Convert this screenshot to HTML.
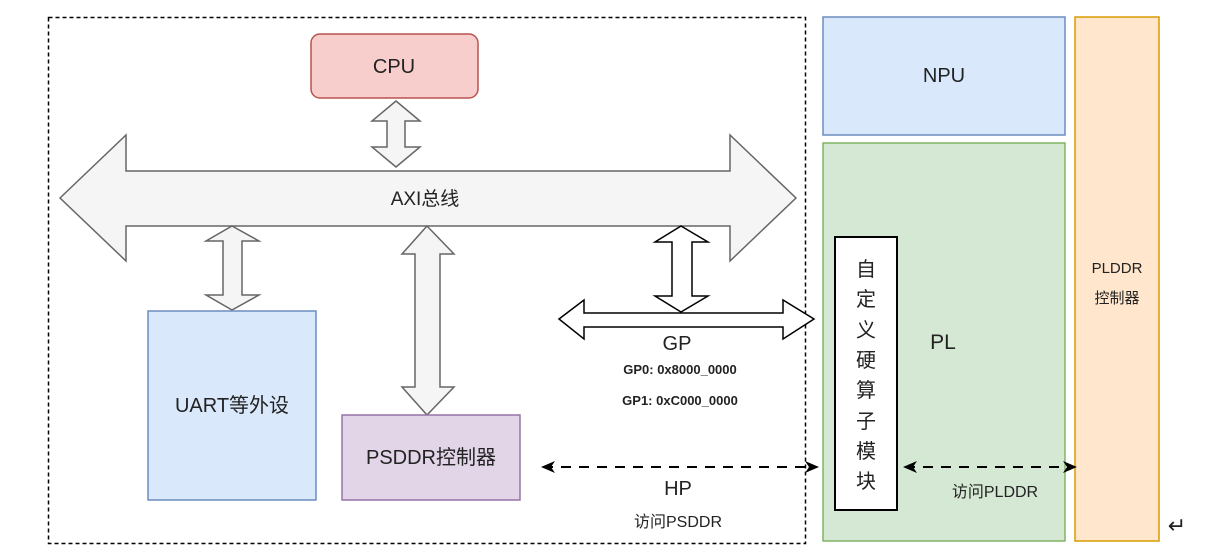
<!DOCTYPE html>
<html><head><meta charset="utf-8"><style>
body{margin:0;background:#fff;}
svg{display:block;}
text{font-family:"Liberation Sans","Noto Sans CJK SC",sans-serif;fill:#222;}
</style></head><body>
<svg width="1232" height="558" viewBox="0 0 1232 558" xmlns="http://www.w3.org/2000/svg">
<defs>
<marker id="ah" markerWidth="14" markerHeight="14" refX="12" refY="7" orient="auto-start-reverse" markerUnits="userSpaceOnUse" viewBox="0 0 14 14"><path d="M0,1 L14,7 L0,13 L4,7 Z" fill="#000"/></marker>
</defs>
<rect x="48.5" y="17.5" width="757" height="526" fill="none" stroke="#000" stroke-width="1.5" stroke-dasharray="4,3"/>
<rect x="311" y="34" width="167" height="64" rx="9" fill="#f8cecc" stroke="#b85450" stroke-width="1.5"/>
<text x="394" y="73" font-size="20" text-anchor="middle">CPU</text>
<path d="M60,198 L126,135 L126,171 L730,171 L730,135 L796,198 L730,261 L730,226 L126,226 L126,261 Z" fill="#f5f5f5" stroke="#666" stroke-width="1.5"/>
<text x="425" y="205" font-size="19" text-anchor="middle" fill="#333">AXI总线</text>
<path d="M396,101 L420,121 L405,121 L405,147 L420,147 L396,167 L372,147 L387,147 L387,121 L372,121 Z" fill="#f5f5f5" stroke="#666" stroke-width="1.5"/>
<path d="M232,226 L259,241 L242,241 L242,295 L259,295 L232,310 L206,295 L223,295 L223,241 L206,241 Z" fill="#f5f5f5" stroke="#666" stroke-width="1.5"/>
<path d="M427,226 L454,254 L440,254 L440,387 L454,387 L427,415 L402,387 L415,387 L415,254 L402,254 Z" fill="#f5f5f5" stroke="#666" stroke-width="1.5"/>
<path d="M681,226 L708,242 L692,242 L692,296 L708,296 L681,312 L655,296 L672,296 L672,242 L655,242 Z" fill="#fff" stroke="#000" stroke-width="1.5"/>
<path d="M559,319 L584,300 L584,313 L783,313 L783,300 L814,319 L783,339 L783,327 L584,327 L584,339 Z" fill="#fff" stroke="#000" stroke-width="1.5"/>
<text x="677" y="350" font-size="20" text-anchor="middle">GP</text>
<text x="680" y="374" font-size="13" text-anchor="middle" font-weight="bold" fill="#333">GP0: 0x8000_0000</text>
<text x="680" y="405" font-size="13" text-anchor="middle" font-weight="bold" fill="#333">GP1: 0xC000_0000</text>
<rect x="148" y="311" width="168" height="189" fill="#dae8fc" stroke="#6c8ebf" stroke-width="1.5"/>
<text x="232" y="412" font-size="20" text-anchor="middle">UART等外设</text>
<rect x="342" y="415" width="178" height="85" fill="#e1d5e7" stroke="#9673a6" stroke-width="1.5"/>
<text x="431" y="464" font-size="20" text-anchor="middle">PSDDR控制器</text>
<line x1="543" y1="467" x2="817" y2="467" stroke="#000" stroke-width="2" stroke-dasharray="10,8" marker-start="url(#ah)" marker-end="url(#ah)"/>
<text x="678" y="495" font-size="20" text-anchor="middle">HP</text>
<text x="678" y="527" font-size="16" text-anchor="middle">访问PSDDR</text>
<rect x="823" y="17" width="242" height="118" fill="#dae8fc" stroke="#6c8ebf" stroke-width="1.5"/>
<text x="944" y="82" font-size="20" text-anchor="middle">NPU</text>
<rect x="823" y="143" width="242" height="398" fill="#d5e8d4" stroke="#82b366" stroke-width="1.5"/>
<text x="943" y="349" font-size="21" text-anchor="middle">PL</text>
<rect x="1075" y="17" width="84" height="524" fill="#ffe6cc" stroke="#d79b00" stroke-width="1.5"/>
<text x="1117" y="273" font-size="15" text-anchor="middle">PLDDR</text>
<text x="1117" y="303" font-size="15" text-anchor="middle">控制器</text>
<rect x="835" y="237" width="62" height="273" fill="#fff" stroke="#000" stroke-width="2"/>
<g font-size="20" text-anchor="middle">
<text x="866" y="276">自</text><text x="866" y="306">定</text><text x="866" y="337">义</text><text x="866" y="367">硬</text><text x="866" y="397">算</text><text x="866" y="428">子</text><text x="866" y="458">模</text><text x="866" y="488">块</text>
</g>
<line x1="905" y1="467" x2="1075" y2="467" stroke="#000" stroke-width="2" stroke-dasharray="10,8" marker-start="url(#ah)" marker-end="url(#ah)"/>
<text x="995" y="497" font-size="16" text-anchor="middle">访问PLDDR</text>
<text x="1177" y="533" font-size="22" text-anchor="middle" fill="#999">↵</text>
</svg>
</body></html>
